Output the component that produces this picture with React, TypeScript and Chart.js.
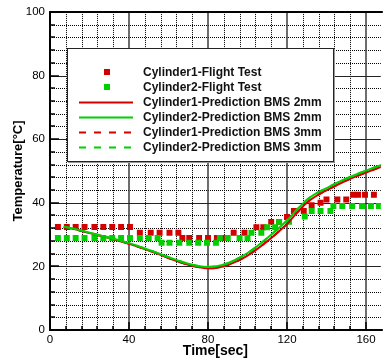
import { useEffect, useRef } from 'react';
import { Chart, registerables } from 'chart.js';

Chart.register(...registerables);

const FONT = '"Liberation Sans", Arial, Helvetica, sans-serif';

const xTicks = [0, 40, 80, 120, 160];
const yTicks = [0, 20, 40, 60, 80, 100];
const xMinorStep = 8;
const yMinorStep = 4;

const seriesLabels = [
  'Cylinder1-Flight Test',
  'Cylinder2-Flight Test',
  'Cylinder1-Prediction BMS 2mm',
  'Cylinder2-Prediction BMS 2mm',
  'Cylinder1-Prediction BMS 3mm',
  'Cylinder2-Prediction BMS 3mm',
];

const flight1Time = [4, 8.5, 13, 17.5, 22.5, 27, 31.5, 36, 40.5, 45.5, 51, 55.5, 60.5, 65, 67, 70.5, 75.5, 80, 84.5, 88.5, 93, 98.5, 104.5, 108, 112, 116, 120, 123.5, 128.5, 132.5, 137, 140, 145.5, 150, 153.5, 156, 159.5, 164];
const flight1Temp = [32.4, 32.4, 32.4, 32.4, 32.4, 32.4, 32.4, 32.4, 32.4, 30.6, 30.6, 30.6, 30.6, 30.6, 28.9, 28.9, 28.9, 28.9, 28.9, 28.9, 30.6, 30.6, 32.3, 32.3, 34, 34, 35.5, 37.4, 37.4, 39.2, 40, 41, 41, 41, 42.5, 42.5, 42.5, 42.5];

const flight2Time = [4, 8.5, 13, 17.5, 22.5, 27, 31.5, 36, 40.5, 45.5, 50, 54.5, 56.5, 60.5, 65.5, 70.5, 75, 79.5, 84, 86, 90, 96, 100, 102, 107, 110, 114, 116, 121, 129, 132.5, 137, 142, 143.5, 148, 153, 158, 162.5, 166.5];
const flight2Temp = [28.9, 28.9, 28.9, 28.9, 28.9, 28.9, 28.9, 28.9, 28.9, 28.9, 28.9, 28.9, 27.4, 27.4, 27.4, 27.4, 27.4, 27.4, 27.4, 28.9, 28.9, 28.9, 28.9, 30.6, 30.6, 32.3, 32.3, 34, 34, 35.7, 37.4, 37.4, 37.4, 39, 39, 39, 39, 39, 39];

const predTime = [7, 10, 15, 20, 25, 30, 35, 40, 45, 50, 55, 60, 65, 70, 75, 80, 85, 90, 95, 100, 105, 110, 115, 120, 125, 130, 135, 140, 145, 150, 155, 160, 165, 170];
const pred1Bms2 = [32.4, 32.0, 31.3, 30.5, 29.7, 28.9, 28.0, 27.1, 26.1, 25.0, 23.9, 22.6, 21.5, 20.5, 19.8, 19.4, 19.6, 20.4, 21.7, 23.4, 25.5, 27.9, 30.5, 33.3, 36.8, 40.0, 42.2, 43.9, 45.5, 47.0, 48.3, 49.5, 50.7, 51.8];
const pred2Bms2 = [32.5, 32.1, 31.4, 30.6, 29.8, 29.0, 28.2, 27.3, 26.3, 25.2, 24.1, 22.9, 21.8, 20.8, 20.1, 19.8, 20.1, 21.0, 22.4, 24.2, 26.4, 28.9, 31.6, 34.4, 37.8, 40.9, 43.0, 44.6, 46.2, 47.6, 48.9, 50.1, 51.3, 52.4];
const pred1Bms3 = [32.4, 32.0, 31.3, 30.5, 29.7, 28.9, 28.0, 27.1, 26.1, 25.0, 23.9, 22.6, 21.5, 20.5, 19.8, 19.4, 19.6, 20.4, 21.7, 23.4, 25.5, 27.9, 30.5, 33.3, 36.8, 40.0, 42.2, 43.9, 45.5, 47.0, 48.3, 49.5, 50.7, 51.8];
const pred2Bms3 = [32.5, 32.1, 31.4, 30.6, 29.8, 29.0, 28.2, 27.3, 26.3, 25.2, 24.1, 22.9, 21.8, 20.8, 20.1, 19.8, 20.1, 21.0, 22.4, 24.2, 26.4, 28.9, 31.6, 34.4, 37.8, 40.9, 43.0, 44.6, 46.2, 47.6, 48.9, 50.1, 51.3, 52.4];

const RED = 'rgb(212,0,0)';
const GREEN = 'rgb(0,208,0)';
const DASH = [7, 8];

const pts = (xs: number[], ys: number[]) => xs.map((x, i) => ({ x, y: ys[i] }));

const gridPlugin = {
  id: 'customGrid',
  beforeDatasetsDraw(chart: any) {
    const { ctx, chartArea: a, scales } = chart;
    const xs = scales.x;
    const ys = scales.y;
    ctx.save();
    ctx.strokeStyle = '#000';
    ctx.lineWidth = 1;
    ctx.setLineDash([1, 1]);
    for (let v = 0; v <= xs.max; v += xMinorStep) {
      if (v % 40 === 0) continue;
      const px = Math.round(xs.getPixelForValue(v)) + 0.5;
      ctx.beginPath();
      ctx.moveTo(px, a.top);
      ctx.lineTo(px, a.bottom);
      ctx.stroke();
    }
    for (let v = 0; v <= ys.max; v += yMinorStep) {
      if (v % 20 === 0) continue;
      const py = Math.round(ys.getPixelForValue(v)) + 0.5;
      ctx.beginPath();
      ctx.moveTo(a.left, py);
      ctx.lineTo(a.right, py);
      ctx.stroke();
    }
    ctx.setLineDash([]);
    ctx.strokeStyle = '#3c3c3c';
    ctx.lineWidth = 1.5;
    xTicks.forEach((v) => {
      if (v === 0) return;
      const px = Math.round(xs.getPixelForValue(v));
      ctx.beginPath();
      ctx.moveTo(px, a.top);
      ctx.lineTo(px, a.bottom);
      ctx.stroke();
    });
    ctx.strokeStyle = '#222';
    ctx.lineWidth = 1;
    yTicks.forEach((v) => {
      if (v === 0 || v === 100) return;
      const py = Math.round(ys.getPixelForValue(v)) + 0.5;
      ctx.beginPath();
      ctx.moveTo(a.left, py);
      ctx.lineTo(a.right, py);
      ctx.stroke();
    });
    ctx.restore();
  },
  afterDraw(chart: any) {
    const { ctx, chartArea: a, scales } = chart;
    const xs = scales.x;
    const ys = scales.y;
    ctx.save();
    ctx.strokeStyle = '#000';
    ctx.lineWidth = 1.5;
    for (let v = 0; v <= xs.max; v += xMinorStep) {
      const px = Math.round(xs.getPixelForValue(v));
      const len = v % 40 === 0 ? 8 : 4;
      ctx.beginPath();
      ctx.moveTo(px, a.bottom);
      ctx.lineTo(px, a.bottom - len);
      ctx.stroke();
    }
    for (let v = 0; v <= ys.max; v += yMinorStep) {
      const py = Math.round(ys.getPixelForValue(v));
      const len = v % 20 === 0 ? 9 : 5;
      ctx.beginPath();
      ctx.moveTo(a.left, py);
      ctx.lineTo(a.left + len, py);
      ctx.stroke();
    }
    ctx.lineWidth = 2;
    ctx.beginPath();
    ctx.moveTo(a.right + 2, a.top);
    ctx.lineTo(a.left, a.top);
    ctx.lineTo(a.left, a.bottom);
    ctx.lineTo(a.right + 2, a.bottom);
    ctx.stroke();

    const bx = 67, by = 48, bw = 266, bh = 113;
    ctx.fillStyle = '#fff';
    ctx.fillRect(bx, by, bw, bh);
    ctx.strokeStyle = '#999';
    ctx.lineWidth = 1;
    ctx.beginPath();
    ctx.moveTo(bx + bw + 1.5, by + 1);
    ctx.lineTo(bx + bw + 1.5, by + bh + 1.5);
    ctx.lineTo(bx + 1, by + bh + 1.5);
    ctx.stroke();
    ctx.strokeStyle = '#222';
    ctx.strokeRect(bx + 0.5, by + 0.5, bw, bh);

    const ds = chart.data.datasets;
    ctx.font = 'bold 12px ' + FONT;
    ctx.textBaseline = 'middle';
    ctx.textAlign = 'left';
    seriesLabels.forEach((label, i) => {
      const y = 72 + i * 15;
      const d = ds.find((dd: any) => dd.label === label);
      if (!d) return;
      if (d.showLine === false) {
        ctx.fillStyle = d.pointBackgroundColor;
        ctx.fillRect(104, y - 3, 6, 6);
      } else {
        ctx.strokeStyle = d.borderColor;
        ctx.lineWidth = 2;
        ctx.setLineDash(d.borderDash || []);
        ctx.beginPath();
        ctx.moveTo(79, y + 0.5);
        ctx.lineTo(133, y + 0.5);
        ctx.stroke();
        ctx.setLineDash([]);
      }
      ctx.fillStyle = '#111';
      ctx.fillText(label, 143, y + 1);
    });
    ctx.restore();
  },
};

export default function App() {
  const ref = useRef<HTMLCanvasElement | null>(null);

  useEffect(() => {
    if (!ref.current) return;
    const chart = new Chart(ref.current, {
      type: 'scatter',
      data: {
        datasets: [
          {
            label: seriesLabels[0],
            data: pts(flight1Time, flight1Temp),
            showLine: false,
            pointStyle: 'rect',
            pointRadius: 4.2,
            pointBorderWidth: 0,
            pointBackgroundColor: RED,
            pointBorderColor: RED,
            order: 5,
          },
          {
            label: seriesLabels[1],
            data: pts(flight2Time, flight2Temp),
            showLine: false,
            pointStyle: 'rect',
            pointRadius: 4.2,
            pointBorderWidth: 0,
            pointBackgroundColor: GREEN,
            pointBorderColor: GREEN,
            order: 4,
          },
          {
            label: seriesLabels[2],
            data: pts(predTime, pred1Bms2),
            showLine: true,
            borderColor: RED,
            borderWidth: 2,
            pointRadius: 0,
            tension: 0.3,
            order: 3,
          },
          {
            label: seriesLabels[3],
            data: pts(predTime, pred2Bms2),
            showLine: true,
            borderColor: GREEN,
            borderWidth: 2,
            pointRadius: 0,
            tension: 0.3,
            order: 1,
          },
          {
            label: seriesLabels[4],
            data: pts(predTime, pred1Bms3),
            showLine: true,
            borderColor: RED,
            borderWidth: 2,
            borderDash: DASH,
            pointRadius: 0,
            tension: 0.3,
            order: 2,
          },
          {
            label: seriesLabels[5],
            data: pts(predTime, pred2Bms3),
            showLine: true,
            borderColor: GREEN,
            borderWidth: 2,
            borderDash: DASH,
            pointRadius: 0,
            tension: 0.3,
            order: 0,
          },
        ],
      },
      options: {
        responsive: false,
        animation: false,
        events: [],
        layout: { padding: { left: 0, right: 0, top: 11, bottom: 0 } },
        plugins: { legend: { display: false }, tooltip: { enabled: false } },
        scales: {
          x: {
            type: 'linear',
            min: 0,
            max: 167.5,
            afterBuildTicks: (s: any) => {
              s.ticks = xTicks.map((v) => ({ value: v }));
            },
            afterFit: (s: any) => {
              s.height = 31;
            },
            grid: { display: false, drawTicks: false, tickLength: 0 },
            border: { display: false },
            ticks: { color: '#000', padding: 3, maxRotation: 0, font: { family: FONT, size: 11.5 } },
            title: {
              display: true,
              text: 'Time[sec]',
              color: '#000',
              font: { family: FONT, size: 14, weight: 'bold' },
              padding: { top: 0, bottom: 1 },
            },
          },
          y: {
            type: 'linear',
            min: 0,
            max: 100,
            afterBuildTicks: (s: any) => {
              s.ticks = yTicks.map((v) => ({ value: v }));
            },
            afterFit: (s: any) => {
              s.width = 50;
            },
            grid: { display: false, drawTicks: false, tickLength: 0 },
            border: { display: false },
            ticks: { color: '#000', padding: 5, font: { family: FONT, size: 11.5 } },
            title: {
              display: true,
              text: 'Temperature[°C]',
              color: '#000',
              font: { family: FONT, size: 13, weight: 'bold' },
              padding: { top: 11, bottom: 0 },
            },
          },
        },
      },
      plugins: [gridPlugin],
    } as any);
    return () => chart.destroy();
  }, []);

  return (
    <div style={{ position: 'absolute', left: 0, top: 0, width: 385, height: 361, background: '#fff' }}>
      <canvas ref={ref} width={385} height={361} style={{ display: 'block' }} />
    </div>
  );
}
